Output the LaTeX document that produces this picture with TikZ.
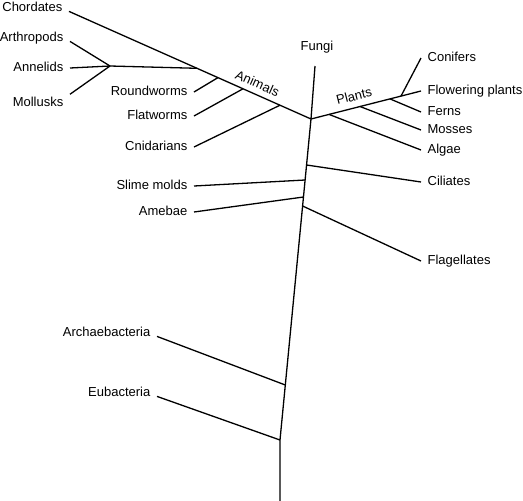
\documentclass[tikz,border=0pt]{standalone}
\usepackage{fontspec}
\setmainfont{Liberation Sans}
\usetikzlibrary{positioning}

\begin{document}
\begin{tikzpicture}[x=1pt, y=-1pt, line width=1.3pt,
	taxon/.style={font=\fontsize{13}{15}\selectfont, inner xsep=6pt, inner ysep=2pt, text height=9.5pt, text depth=2.7pt},
	group/.style={font=\fontsize{13}{15}\selectfont, inner sep=0pt}]
	\useasboundingbox (0, 0) rectangle (523, 501);

	\node[taxon, anchor=east] (chordates) at (69, 8) {Chordates};
	\node[taxon, anchor=east] (arthropods) at (70, 38) {Arthropods};
	\node[taxon, anchor=east] (annelids) at (70, 68) {Annelids};
	\node[taxon, anchor=east] (mollusks) at (70, 103) {Mollusks};
	\node[taxon, anchor=east] (roundworms) at (194, 92) {Roundworms};
	\node[taxon, anchor=east] (flatworms) at (194, 116) {Flatworms};
	\node[taxon, anchor=east] (cnidarians) at (194, 147) {Cnidarians};
	\node[taxon, anchor=east] (slime) at (194, 186) {Slime molds};
	\node[taxon, anchor=east] (amebae) at (194, 212) {Amebae};
	\node[taxon, anchor=east] (archae) at (157, 333) {Archaebacteria};
	\node[taxon, anchor=east] (eubact) at (157, 393) {Eubacteria};

	\node[taxon, anchor=west] (conifers) at (421, 58) {Conifers};
	\node[taxon, anchor=west] (flowering) at (421, 91) {Flowering plants};
	\node[taxon, anchor=west] (ferns) at (421, 112) {Ferns};
	\node[taxon, anchor=west] (mosses) at (421, 130) {Mosses};
	\node[taxon, anchor=west] (algae) at (421, 150) {Algae};
	\node[taxon, anchor=west] (ciliates) at (421, 182) {Ciliates};
	\node[taxon, anchor=west] (flagellates) at (421, 261) {Flagellates};

	% trunk
	\coordinate (base) at (280, 501);
	\coordinate (jEu) at (280, 440);
	\coordinate (jArch) at (285.3, 385);
	\coordinate (jFlag) at (302.6, 206);
	\coordinate (jAmeb) at (303.5, 197);
	\coordinate (jSlime) at (305.1, 180);
	\coordinate (jCil) at (306.6, 165);
	\coordinate (jMain) at (311, 119);
	\coordinate (fTop) at (315, 66);
	\node[taxon, above=10pt of fTop, xshift=2pt] (fungi) {Fungi};

	% animals
	\coordinate (jAnn) at (110, 66);
	\coordinate (jAnne) at (197, 68.3);
	\coordinate (jRound) at (218, 77.6);
	\coordinate (jFlat) at (243, 88.8);
	\coordinate (jCnid) at (280, 105.2);

	% plants
	\coordinate (jAlg) at (329, 114.4);
	\coordinate (jMoss) at (360, 106.5);
	\coordinate (jFern) at (390, 98.9);
	\coordinate (jConi) at (401, 96.1);

	\draw (base) -- (jEu) -- (jMain) -- (fTop);
	\draw (chordates.base east) -- (jMain) -- (flowering.west);

	\draw (arthropods.base east) -- (jAnn);
	\draw (annelids.east) -- (jAnn);
	\draw (mollusks.north east) -- (jAnn);
	\draw (jAnn) -- (jAnne);
	\draw (roundworms.east) -- (jRound);
	\draw (flatworms.east) -- (jFlat);
	\draw (cnidarians.east) -- (jCnid);

	\draw (conifers.west) -- (jConi);
	\draw (ferns.west) -- (jFern);
	\draw (mosses.west) -- (jMoss);
	\draw (algae.west) -- (jAlg);

	\draw (slime.east) -- (jSlime);
	\draw (amebae.east) -- (jAmeb);
	\draw (ciliates.west) -- (jCil);
	\draw (flagellates.west) -- (jFlag);
	\draw (archae.base east) -- (jArch);
	\draw (eubact.base east) -- (jEu);

	\node[group, rotate=-24] (animals) at (257.5, 83.5) {Animals};
	\node[group, rotate=14.3] (plants) at (354, 96) {Plants};
\end{tikzpicture}
\end{document}
